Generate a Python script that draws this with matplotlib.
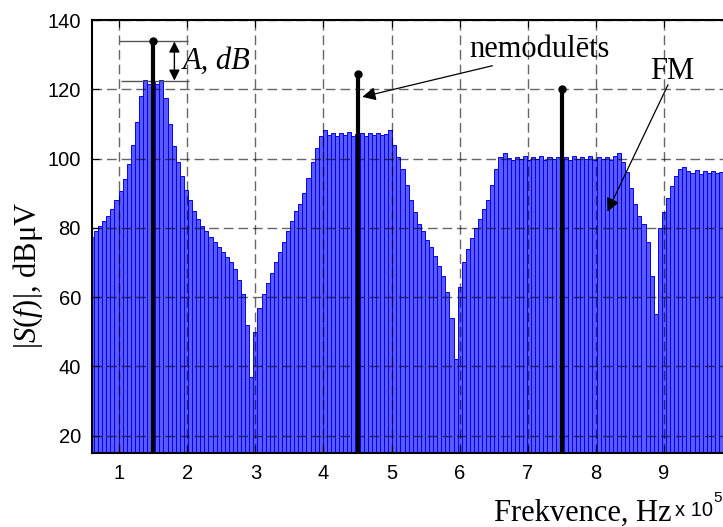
import numpy as np
import matplotlib
matplotlib.use("Agg")
import matplotlib.pyplot as plt

# spectrum lines, frequency in units of 1e5 Hz (step 0.06 from 0.6)
freq = np.round(0.6 + 0.06 * np.arange(157), 2)
level = [
    77.5, 79, 80.5, 82, 83.5, 85.5, 88, 90.5, 94, 98.5,
    104, 110.5, 118, 122.8, 121.5, 122, 121.5, 122.8, 117.5, 110,
    103.5, 99, 95, 91, 88, 85, 82.5, 80.5, 79, 77.5,
    76, 74.5, 73, 71.5, 70, 68, 65, 61, 52, 37,
    50, 57, 61, 64, 67, 70, 73, 76, 79, 82,
    85, 87, 90, 94.5, 99, 103, 106.5, 108.3, 106.8, 107.5,
    106.5, 107.3, 106.8, 107.6, 106.6, 107.0, 107.4, 106.6, 107.5, 106.9,
    107.4, 106.7, 107.2, 108.3, 104, 100.5, 97, 92.5, 88, 84.5,
    81, 79, 76.5, 74.5, 72, 69, 66, 61.5, 54, 42,
    63, 70, 74, 77, 80, 82.5, 85.5, 88, 92.5, 97,
    100.5, 101.7, 100.3, 99.5, 100.5, 99.8, 100.6, 99.7, 100.4, 100.0,
    100.6, 99.6, 100.5, 99.9, 100.4, 100.0, 100.5, 99.7, 100.6, 99.8,
    100.4, 99.9, 100.6, 99.7, 100.5, 100.0, 100.4, 99.6, 100.8, 101.7,
    99, 96, 91.5, 87, 83.5, 81, 76, 66, 55, 80,
    84.5, 88.5, 92, 95, 97, 97.7, 96.5, 95.8, 96.8, 95.5,
    96.5, 95.8, 96.3, 95.7, 96.2, 95.8, 96.0,
]

# unmodulated carriers
carrier_f = [1.5, 4.5, 7.5]
carrier_level = [134, 124.5, 120]

y_bottom = 15
xticks = [1, 2, 3, 4, 5, 6, 7, 8, 9]
yticks = [20, 40, 60, 80, 100, 120, 140]

serif = "Liberation Serif"
sans = "Liberation Sans"
plt.rcParams["mathtext.fontset"] = "custom"
plt.rcParams["mathtext.rm"] = serif
plt.rcParams["mathtext.it"] = serif + ":italic"

fig = plt.figure(figsize=(7.23, 5.27), dpi=100)
ax = fig.add_axes([92 / 723, 74 / 527, 640 / 723, 433 / 527])

ax.bar(freq, np.array(level) - y_bottom, bottom=y_bottom, width=0.06,
       color="#5a5aff", edgecolor="#0000ff", linewidth=0.7, zorder=1)

ax.vlines(carrier_f, y_bottom, carrier_level, color="black", lw=3.0, zorder=4)
ax.plot(carrier_f, carrier_level, "o", color="black", ms=5, zorder=5)

ax.set_xlim(0.6, 10.0)
ax.set_ylim(15, 140)
ax.set_xticks(xticks)
ax.set_yticks(yticks)
ax.set_xticklabels([str(t) for t in xticks], fontfamily=sans, fontsize=14.5)
ax.set_yticklabels([str(t) for t in yticks], fontfamily=sans, fontsize=14.5)
ax.tick_params(direction="in", length=5, top=True, right=False, pad=8)

ax.grid(True, color="black", linestyle=(0, (7, 3.5)), linewidth=1.0, alpha=0.6)
ax.set_axisbelow(False)
for s in ax.spines.values():
    s.set_linewidth(1.5)
    s.set_zorder(6)

# A, dB marker
ax.hlines(133.8, 1.0, 2.01, color="#555555", lw=1.0, zorder=3)
ax.hlines(122.5, 1.02, 2.03, color="#555555", lw=1.0, zorder=3)
ax.annotate("", xy=(1.81, 133.8), xytext=(1.81, 122.5),
            arrowprops=dict(arrowstyle="<|-|>", color="black", lw=1.0,
                            mutation_scale=16, shrinkA=0, shrinkB=0), zorder=6)
ax.text(1.93, 128.0, "A, dB", fontfamily=serif, fontstyle="italic",
        fontsize=22, va="center", ha="left", zorder=7)

# labels with arrows
ax.text(7.18, 131.4, "nemodulēts", fontfamily=serif, fontsize=22,
        ha="center", va="center", zorder=7)
ax.annotate("", xy=(4.57, 117.8), xytext=(6.48, 126.8),
            arrowprops=dict(arrowstyle="-|>", color="black", lw=0.9,
                            mutation_scale=20, shrinkA=0, shrinkB=0), zorder=7)
ax.text(9.12, 125.2, "FM", fontfamily=serif, fontsize=22,
        ha="center", va="center", zorder=7)
ax.annotate("", xy=(8.17, 84.7), xytext=(9.06, 121.3),
            arrowprops=dict(arrowstyle="-|>", color="black", lw=0.9,
                            mutation_scale=20, shrinkA=0, shrinkB=0), zorder=7)

ax.set_ylabel(r"$|S(f)|$, dBμV", fontfamily=serif, fontsize=22)
ax.yaxis.set_label_coords(-0.073, 0.41)

fig.text(583 / 723, 1 - 513 / 527, "Frekvence, Hz", fontfamily=serif,
         fontsize=22, ha="center", va="center")
fig.text(675 / 723, 1 - 511 / 527, "x 10", fontfamily=sans, fontsize=14.5,
         ha="left", va="center")
fig.text(713 / 723, 1 - 498 / 527, "5", fontfamily=sans, fontsize=11,
         ha="left", va="center")

fig.savefig("out.png", dpi=100)
